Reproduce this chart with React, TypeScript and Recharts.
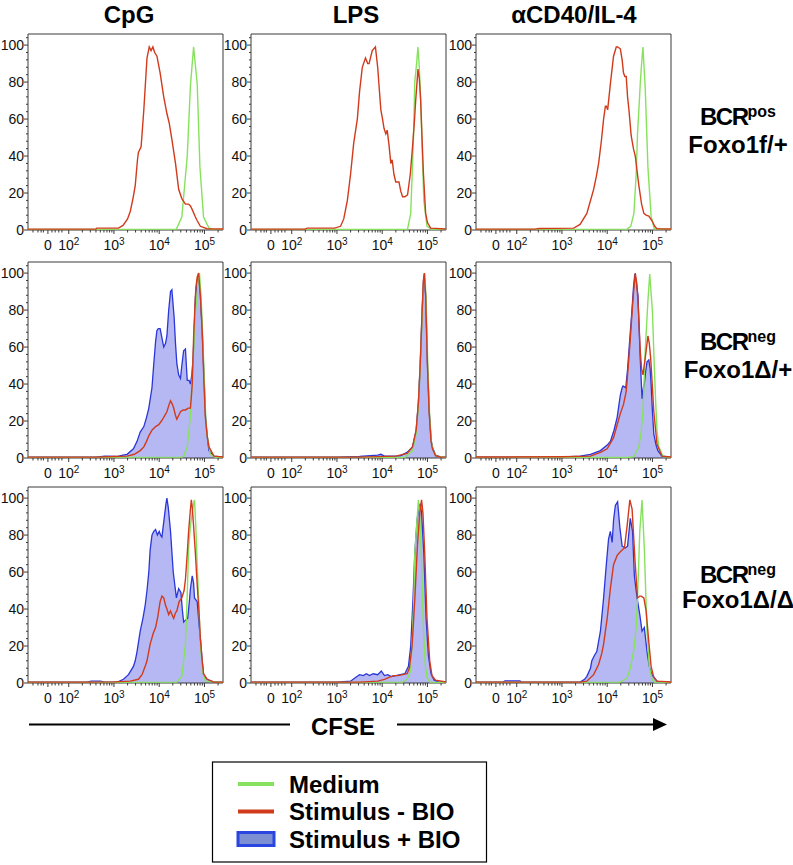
import React from 'react';
import { ComposedChart, Line, Area, XAxis, YAxis, ReferenceArea } from 'recharts';

// x positions are in display units of the biexponential CFSE axis:
// 0 sits at 1.54, 10^2 at 2, 10^3 at 3, 10^4 at 4, 10^5 at 5
const X_DOMAIN: [number, number] = [1.1, 5.41];
const Y_DOMAIN: [number, number] = [0, 106];

const stimuli = ['CpG', 'LPS', 'αCD40/IL-4'];
const genotypes = [
  { sup: 'pos', line2: 'Foxo1f/+' },
  { sup: 'neg', line2: 'Foxo1Δ/+' },
  { sup: 'neg', line2: 'Foxo1Δ/Δ' },
];
const legendItems = ['Medium', 'Stimulus - BIO', 'Stimulus + BIO'];

const xMajorTicks = [
  { v: 1.54, label: '0', exp: '' },
  { v: 2, label: '10', exp: '2' },
  { v: 3, label: '10', exp: '3' },
  { v: 4, label: '10', exp: '4' },
  { v: 5, label: '10', exp: '5' },
];
const xLinearMinor = [1.21, 1.32, 1.39, 1.44, 1.63, 1.7, 1.78, 1.85];
const yTicks = [0, 4, 8, 12, 16, 20, 24, 28, 32, 36, 40, 44, 48, 52, 56, 60, 64, 68, 72, 76, 80, 84, 88, 92, 96, 100, 104];

type Pt = [number, number];

// ---- BCRpos Foxo1f/+ ----
const cpgPosMedium: Pt[] = [[1.1,0.3],[4.38,0.5],[4.5,7],[4.62,40],[4.69,78],[4.76,99],[4.84,79],[4.9,34],[4.98,7],[5.1,1],[5.2,0.3],[5.41,0.3]];
const cpgPosStim: Pt[] = [[1.1,0.5],[2.6,0.5],[2.62,1],[3.1,1],[3.2,2.5],[3.3,6],[3.36,10],[3.42,17],[3.47,24],[3.52,38],[3.54,42],[3.6,45],[3.66,65],[3.73,93],[3.78,99],[3.82,97],[3.86,99],[3.9,96],[3.95,94],[4.02,85],[4.1,72],[4.17,63],[4.22,58],[4.28,49],[4.36,36],[4.43,22],[4.5,17],[4.58,14],[4.65,14],[4.69,13],[4.73,11],[4.8,7],[4.84,5],[4.91,2],[5.06,0.7],[5.41,0.5]];

const lpsPosMedium: Pt[] = [[1.1,0.3],[4.5,0.3],[4.56,0.5],[4.63,9],[4.67,35],[4.69,49],[4.72,80],[4.76,90],[4.79,99],[4.82,88],[4.85,70],[4.92,16],[4.99,2],[5.1,0.3],[5.41,0.3]];
const lpsPosStim: Pt[] = [[1.1,0.5],[2.3,0.5],[2.34,1],[2.95,1],[3.08,2],[3.15,6],[3.23,16],[3.3,30],[3.37,47],[3.45,60],[3.5,75],[3.56,88],[3.63,93],[3.68,90],[3.71,90],[3.78,97],[3.85,99],[3.9,88],[3.93,78],[3.97,65],[4.0,61],[4.04,55],[4.08,52],[4.11,54],[4.15,46],[4.19,36],[4.22,38],[4.26,30],[4.3,26],[4.37,26],[4.41,21],[4.45,18],[4.5,18],[4.56,19],[4.62,30],[4.67,45],[4.71,58],[4.74,70],[4.77,80],[4.79,87],[4.82,82],[4.85,70],[4.88,50],[4.91,31],[4.96,9],[5.0,4],[5.07,1],[5.41,0.5]];

const cd40PosMedium: Pt[] = [[1.1,0.3],[4.44,0.5],[4.52,2],[4.59,9],[4.64,30],[4.67,52],[4.7,65],[4.73,79],[4.76,90],[4.79,99],[4.84,77],[4.9,34],[4.97,7.5],[5.04,0.7],[5.41,0.3]];
const cd40PosStim: Pt[] = [[1.1,0.5],[2.4,0.5],[2.5,0.8],[3.26,1],[3.4,3],[3.55,9],[3.62,15],[3.7,22],[3.76,29],[3.81,36],[3.87,48],[3.92,60],[3.96,67],[3.98,67],[4.01,65],[4.04,72],[4.07,79],[4.14,94],[4.2,99],[4.23,99],[4.29,98],[4.33,92],[4.36,85],[4.39,83],[4.42,83],[4.45,72],[4.48,65],[4.53,51],[4.58,44],[4.62,40],[4.66,32],[4.7,24],[4.76,14],[4.81,9],[4.86,8],[4.92,7.5],[4.99,5],[5.05,2],[5.1,0.7],[5.41,0.5]];

// ---- BCRneg Foxo1Δ/+ ----
const cpgHetMedium: Pt[] = [[1.1,0.3],[4.5,0.5],[4.54,1],[4.62,6],[4.68,20],[4.73,42],[4.8,78],[4.86,96],[4.89,100],[4.93,85],[4.97,60],[5.04,15],[5.13,2],[5.25,0.3],[5.41,0.3]];
const cpgHetStim: Pt[] = [[1.1,0.5],[2.6,0.5],[3.0,0.8],[3.29,1],[3.45,2],[3.58,4],[3.66,6],[3.72,9],[3.77,12],[3.84,15],[3.92,17],[3.99,18],[4.05,20],[4.1,22],[4.17,25],[4.22,29],[4.25,31],[4.29,29],[4.32,27],[4.36,23],[4.39,21],[4.43,23],[4.47,25],[4.53,26],[4.58,26],[4.64,27],[4.69,27],[4.71,33],[4.73,40],[4.76,65],[4.79,82],[4.81,92],[4.84,98],[4.87,100],[4.91,88],[4.95,69],[4.99,40],[5.02,22],[5.06,12],[5.1,6],[5.21,1],[5.41,0.5]];
const cpgHetBio: Pt[] = [[1.1,0.4],[2.6,0.5],[2.8,1],[3.06,0.8],[3.2,1.5],[3.29,2],[3.43,5],[3.51,9],[3.58,14],[3.66,17],[3.72,22],[3.77,27],[3.84,38],[3.88,51],[3.92,63],[3.95,69],[3.98,70],[4.02,70],[4.06,65],[4.1,60],[4.14,62],[4.17,66],[4.21,80],[4.25,90],[4.28,91],[4.33,76],[4.36,62],[4.39,51],[4.43,45],[4.47,43],[4.5,50],[4.54,58],[4.58,59],[4.6,50],[4.62,42],[4.66,42],[4.69,40],[4.72,45],[4.75,54],[4.8,87],[4.84,96],[4.87,99],[4.91,88],[4.95,69],[5.0,38],[5.02,24],[5.06,12],[5.1,4],[5.21,1],[5.41,0.5]];

const lpsHetMedium: Pt[] = [[1.1,0.3],[4.5,0.3],[4.67,4],[4.75,13],[4.8,28],[4.85,55],[4.89,82],[4.92,97],[4.94,100],[4.97,86],[5.01,48],[5.05,22],[5.09,8],[5.13,4],[5.2,1],[5.41,0.3]];
const lpsHetStim: Pt[] = [[1.1,0.5],[3.5,0.5],[4.3,1],[4.55,2.5],[4.67,6],[4.75,15],[4.8,30],[4.84,50],[4.88,78],[4.91,96],[4.93,100],[4.96,88],[5.0,50],[5.04,24],[5.08,9],[5.11,5],[5.18,1.2],[5.3,0.5],[5.41,0.5]];
const lpsHetBio: Pt[] = [[1.1,0.4],[3.0,0.5],[3.5,0.8],[3.9,1.5],[3.97,2],[4.05,1],[4.4,1.2],[4.55,3],[4.67,6],[4.75,15],[4.8,30],[4.84,51],[4.88,78],[4.91,95],[4.93,99],[4.96,88],[5.0,51],[5.04,25],[5.08,10],[5.11,6],[5.18,1.5],[5.3,0.5],[5.41,0.4]];

const cd40HetMedium: Pt[] = [[1.1,0.3],[4.5,0.4],[4.59,0.7],[4.7,6],[4.75,14],[4.79,25],[4.84,58],[4.9,85],[4.94,99.5],[5.0,79],[5.04,50],[5.07,31],[5.1,15],[5.14,6],[5.24,0.7],[5.41,0.3]];
const cd40HetStim: Pt[] = [[1.1,0.5],[3.0,0.7],[3.63,1],[3.85,3],[4.0,5],[4.14,11],[4.22,18],[4.29,24],[4.36,29],[4.42,36],[4.46,48],[4.5,61],[4.57,86],[4.62,100],[4.65,95],[4.68,85],[4.73,58],[4.76,48],[4.79,45],[4.84,54],[4.88,62],[4.9,66],[4.93,62],[4.96,54],[5.0,38],[5.03,25],[5.1,7.5],[5.21,1],[5.41,0.5]];
const cd40HetBio: Pt[] = [[1.1,0.4],[2.96,0.5],[3.4,1],[3.63,2],[3.85,4],[4.0,7],[4.07,9],[4.15,15],[4.22,22],[4.29,34],[4.33,38],[4.35,39],[4.41,38],[4.45,48],[4.48,58],[4.55,81],[4.58,92],[4.61,99.5],[4.64,96],[4.68,88],[4.73,54],[4.77,32],[4.8,38],[4.82,40],[4.85,47],[4.88,52],[4.92,53],[4.95,48],[4.97,40],[5.0,25],[5.03,13],[5.08,7],[5.12,4],[5.21,1],[5.41,0.4]];

// ---- BCRneg Foxo1Δ/Δ ----
const cpgKoMedium: Pt[] = [[1.1,0.3],[4.39,0.5],[4.5,3.6],[4.54,12],[4.58,21],[4.62,48],[4.65,73],[4.69,85],[4.73,92],[4.76,97],[4.78,99],[4.81,84],[4.84,64],[4.88,40],[4.91,21],[4.96,6],[5.02,1],[5.41,0.3]];
const cpgKoStim: Pt[] = [[1.1,0.5],[2.4,0.5],[3.0,0.6],[3.36,1],[3.54,2],[3.62,4.5],[3.69,9],[3.73,12],[3.8,21],[3.87,27],[3.92,30],[3.97,36],[4.02,44],[4.06,47],[4.1,46],[4.14,42],[4.17,40],[4.21,37],[4.25,39],[4.3,36],[4.32,35],[4.36,38],[4.39,39],[4.44,44],[4.5,46],[4.55,50],[4.58,56],[4.62,70],[4.65,82],[4.69,94],[4.71,99],[4.73,95],[4.76,85],[4.8,70],[4.84,53],[4.88,38],[4.91,24],[4.95,12],[4.98,5],[5.06,2],[5.21,0.5],[5.41,0.5]];
const cpgKoBio: Pt[] = [[1.1,0.4],[2.4,0.5],[2.5,1],[2.7,1],[2.8,0.5],[3.06,0.4],[3.21,2],[3.32,4.5],[3.43,9],[3.47,12],[3.51,17],[3.58,28],[3.64,35],[3.69,42],[3.73,50],[3.77,60],[3.8,72],[3.84,80],[3.88,82],[3.92,83],[3.96,80],[4.0,82],[4.03,80],[4.06,79],[4.11,89],[4.15,97],[4.17,100],[4.2,95],[4.25,82],[4.31,60],[4.35,52],[4.38,46],[4.43,51],[4.48,49],[4.51,40],[4.54,33],[4.58,34],[4.63,35],[4.67,45],[4.69,51],[4.73,58],[4.76,54],[4.78,46],[4.84,44],[4.88,32],[4.91,24],[4.95,12],[4.98,4.5],[5.06,2],[5.21,0.5],[5.41,0.4]];

const lpsKoMedium: Pt[] = [[1.1,0.3],[4.45,0.5],[4.55,2],[4.62,6],[4.66,20],[4.7,46],[4.72,70],[4.75,81],[4.78,92],[4.8,99],[4.83,90],[4.87,65],[4.91,30],[4.95,10],[4.99,3],[5.05,0.5],[5.41,0.3]];
const lpsKoStim: Pt[] = [[1.1,0.5],[3.5,0.5],[3.9,1],[4.05,2],[4.15,3],[4.25,4],[4.35,4],[4.45,4.5],[4.55,5],[4.6,8],[4.66,20],[4.72,45],[4.78,75],[4.83,92],[4.87,99],[4.9,92],[4.94,70],[4.99,35],[5.05,12],[5.1,4],[5.18,1.5],[5.41,0.5]];
const lpsKoBio: Pt[] = [[1.1,0.4],[3.0,0.5],[3.3,1],[3.41,3],[3.5,4.5],[3.58,4],[3.65,5],[3.72,4],[3.8,5],[3.9,4.5],[3.98,6.5],[4.05,4],[4.12,4.5],[4.2,3.5],[4.3,4],[4.4,4.5],[4.5,5],[4.58,9],[4.63,20],[4.68,45],[4.72,70],[4.77,88],[4.81,95],[4.84,97],[4.87,92],[4.92,70],[4.97,35],[5.02,15],[5.08,5],[5.15,1.5],[5.25,0.5],[5.41,0.4]];

const cd40KoMedium: Pt[] = [[1.1,0.3],[4.29,0.5],[4.44,2.7],[4.51,8],[4.59,18],[4.64,30],[4.67,46],[4.72,82],[4.77,99],[4.82,73],[4.88,28],[4.93,9],[4.99,2],[5.05,0.5],[5.41,0.3]];
const cd40KoStim: Pt[] = [[1.1,0.5],[3.4,0.5],[3.55,1],[3.7,4.5],[3.81,10],[3.88,16],[3.92,21],[4.0,35],[4.07,51],[4.14,64],[4.22,69],[4.29,71],[4.38,73],[4.44,85],[4.5,99],[4.55,94],[4.62,64],[4.67,46],[4.72,47],[4.75,47],[4.81,46],[4.86,39],[4.92,22],[4.97,9],[5.03,3],[5.1,1],[5.41,0.5]];
const cd40KoBio: Pt[] = [[1.1,0.4],[1.7,0.5],[1.74,1.2],[2.07,1.2],[2.1,0.5],[3.4,0.5],[3.5,2],[3.55,3.6],[3.63,8],[3.66,12],[3.72,15],[3.77,17],[3.85,28],[3.92,46],[3.98,64],[4.03,78],[4.07,82],[4.11,76],[4.14,88],[4.18,96],[4.23,98],[4.28,84],[4.33,74],[4.4,73],[4.45,74],[4.51,89],[4.56,82],[4.6,58],[4.66,46],[4.72,37],[4.77,28],[4.82,30],[4.88,17],[4.93,9],[4.99,4.5],[5.1,1],[5.2,0.4],[5.41,0.4]];

const GREEN = '#86e25c';
const RED = '#d23a1c';
const BLUE = '#2a36d8';
const BLUE_FILL = '#b6b8f4';
const FRAME = '#3a3a3a';
const FONT = '"Liberation Sans", Arial, sans-serif';

const PLOT_W = 195;
const PLOT_H = 196;
const Y_AXIS_W = 28;
const X_AXIS_H = 28;
const TOP_PAD = 4;
const colLefts = [28, 251, 476];
const rowTops = [34.3, 261.7, 486.7];

interface PanelSeries {
  medium: Pt[];
  stim: Pt[];
  bio?: Pt[];
}

const panels: PanelSeries[][] = [
  [
    { medium: cpgPosMedium, stim: cpgPosStim },
    { medium: lpsPosMedium, stim: lpsPosStim },
    { medium: cd40PosMedium, stim: cd40PosStim },
  ],
  [
    { medium: cpgHetMedium, stim: cpgHetStim, bio: cpgHetBio },
    { medium: lpsHetMedium, stim: lpsHetStim, bio: lpsHetBio },
    { medium: cd40HetMedium, stim: cd40HetStim, bio: cd40HetBio },
  ],
  [
    { medium: cpgKoMedium, stim: cpgKoStim, bio: cpgKoBio },
    { medium: lpsKoMedium, stim: lpsKoStim, bio: lpsKoBio },
    { medium: cd40KoMedium, stim: cd40KoStim, bio: cd40KoBio },
  ],
];

const toPoints = (pts: Pt[]) => pts.map(([x, y]) => ({ x, y }));

const xLogMinor: number[] = [];
[2, 3, 4].forEach((d) => {
  for (let k = 2; k <= 9; k++) xLogMinor.push(d + Math.log10(k));
});
xLogMinor.push(5 + Math.log10(2));
const xTicks = [...xMajorTicks.map((t) => t.v), ...xLinearMinor, ...xLogMinor].sort((a, b) => a - b);

const XTick = (props: any) => {
  const { x, y, payload } = props;
  const major = xMajorTicks.find((m) => Math.abs(m.v - payload.value) < 1e-6);
  return (
    <g>
      <line x1={x} x2={x} y1={y} y2={y + (major ? 4 : 2.5)} stroke={FRAME} strokeWidth={1} />
      {major && (
        <text x={x} y={y + 20} textAnchor="middle" fontSize={14} fill="#111" fontFamily={FONT}>
          {major.label}
          {major.exp && (
            <tspan dy={-5} fontSize={10}>
              {major.exp}
            </tspan>
          )}
        </text>
      )}
    </g>
  );
};

const YTick = (props: any) => {
  const { x, y, payload } = props;
  const v = payload.value as number;
  const major = v % 20 === 0;
  return (
    <g>
      <line x1={x} x2={x - (major ? 4 : 2)} y1={y} y2={y} stroke={FRAME} strokeWidth={1} />
      {major && (
        <text x={x - 4} y={y} dy={5} textAnchor="end" fontSize={14} fill="#111" fontFamily={FONT}>
          {v}
        </text>
      )}
    </g>
  );
};

const Panel: React.FC<{ series: PanelSeries; left: number; top: number }> = ({ series, left, top }) => (
  <div style={{ position: 'absolute', left: left - Y_AXIS_W, top: top - TOP_PAD }}>
    <ComposedChart
      width={Y_AXIS_W + PLOT_W + 2}
      height={TOP_PAD + PLOT_H + X_AXIS_H}
      margin={{ top: TOP_PAD, right: 2, bottom: 0, left: 0 }}
    >
      <XAxis
        dataKey="x"
        type="number"
        domain={X_DOMAIN}
        allowDataOverflow
        ticks={xTicks}
        interval={0}
        tick={<XTick />}
        tickLine={false}
        axisLine={false}
        tickSize={0}
        tickMargin={0}
        height={X_AXIS_H}
      />
      <YAxis
        type="number"
        domain={Y_DOMAIN}
        allowDataOverflow
        ticks={yTicks}
        interval={0}
        tick={<YTick />}
        tickLine={false}
        axisLine={false}
        tickSize={0}
        tickMargin={0}
        width={Y_AXIS_W}
      />
      {series.bio && (
        <Area
          data={toPoints(series.bio)}
          dataKey="y"
          type="linear"
          fill={BLUE_FILL}
          fillOpacity={1}
          stroke={BLUE}
          strokeWidth={1.3}
          dot={false}
          activeDot={false}
          isAnimationActive={false}
        />
      )}
      <Line
        data={toPoints(series.medium)}
        dataKey="y"
        type="linear"
        stroke={GREEN}
        strokeWidth={1.4}
        dot={false}
        activeDot={false}
        isAnimationActive={false}
      />
      <Line
        data={toPoints(series.stim)}
        dataKey="y"
        type="linear"
        stroke={RED}
        strokeWidth={1.4}
        dot={false}
        activeDot={false}
        isAnimationActive={false}
      />
      <ReferenceArea
        x1={X_DOMAIN[0]}
        x2={X_DOMAIN[1]}
        y1={Y_DOMAIN[0]}
        y2={Y_DOMAIN[1]}
        fill="none"
        stroke={FRAME}
        strokeWidth={1}
        ifOverflow="visible"
      />
    </ComposedChart>
  </div>
);

const App: React.FC = () => {
  const titleX = [129, 356, 574];
  const rowLabelY = [
    [125, 153],
    [350, 378],
    [583, 608],
  ];
  const legendColors = [GREEN, RED, BLUE];
  return (
    <div style={{ position: 'absolute', left: 0, top: 0, width: 793, height: 865, background: '#fff', fontFamily: FONT }}>
      {panels.map((row, r) =>
        row.map((s, c) => <Panel key={`${r}-${c}`} series={s} left={colLefts[c]} top={rowTops[r]} />)
      )}
      <svg width={793} height={865} style={{ position: 'absolute', left: 0, top: 0, pointerEvents: 'none' }}>
        {stimuli.map((s, i) => (
          <text key={s} x={titleX[i]} y={23} textAnchor="middle" fontSize={24} fontWeight="bold" fontFamily={FONT} fill="#000">
            {s}
          </text>
        ))}
        {genotypes.map((g, i) => (
          <g key={i}>
            <text x={738} y={rowLabelY[i][0]} textAnchor="middle" fontSize={24} fontWeight="bold" fontFamily={FONT} fill="#000">
              <tspan letterSpacing={-1.5}>BCR</tspan>
              <tspan dy={-8} fontSize={16}>{g.sup}</tspan>
            </text>
            <text x={738} y={rowLabelY[i][1]} textAnchor="middle" fontSize={24} fontWeight="bold" fontFamily={FONT} fill="#000">
              {g.line2}
            </text>
          </g>
        ))}
        {/* CFSE axis arrow */}
        <line x1={29} x2={290} y1={724.5} y2={724.5} stroke="#000" strokeWidth={2} />
        <line x1={397} x2={656} y1={724.5} y2={724.5} stroke="#000" strokeWidth={2} />
        <polygon points="653,718 667,724.5 653,731" fill="#000" />
        <text x={343} y={735} textAnchor="middle" fontSize={24} fontWeight="bold" fontFamily={FONT} fill="#000">
          CFSE
        </text>
        {/* legend */}
        <rect x={212.5} y={762} width={274} height={100} fill="#fff" stroke="#000" strokeWidth={1.2} />
        {legendItems.map((item, i) => {
          const cy = 784 + i * 27.5;
          return (
            <g key={item}>
              {i < 2 ? (
                <line x1={238} x2={274} y1={cy} y2={cy} stroke={legendColors[i]} strokeWidth={4} />
              ) : (
                <rect x={238} y={cy - 6.5} width={36} height={13} fill="#7d8fd3" stroke="#2b45e0" strokeWidth={3} />
              )}
              <text x={289} y={cy + 8.5} fontSize={24} fontWeight="bold" fontFamily={FONT} fill="#000">
                {item}
              </text>
            </g>
          );
        })}
      </svg>
    </div>
  );
};

export default App;
